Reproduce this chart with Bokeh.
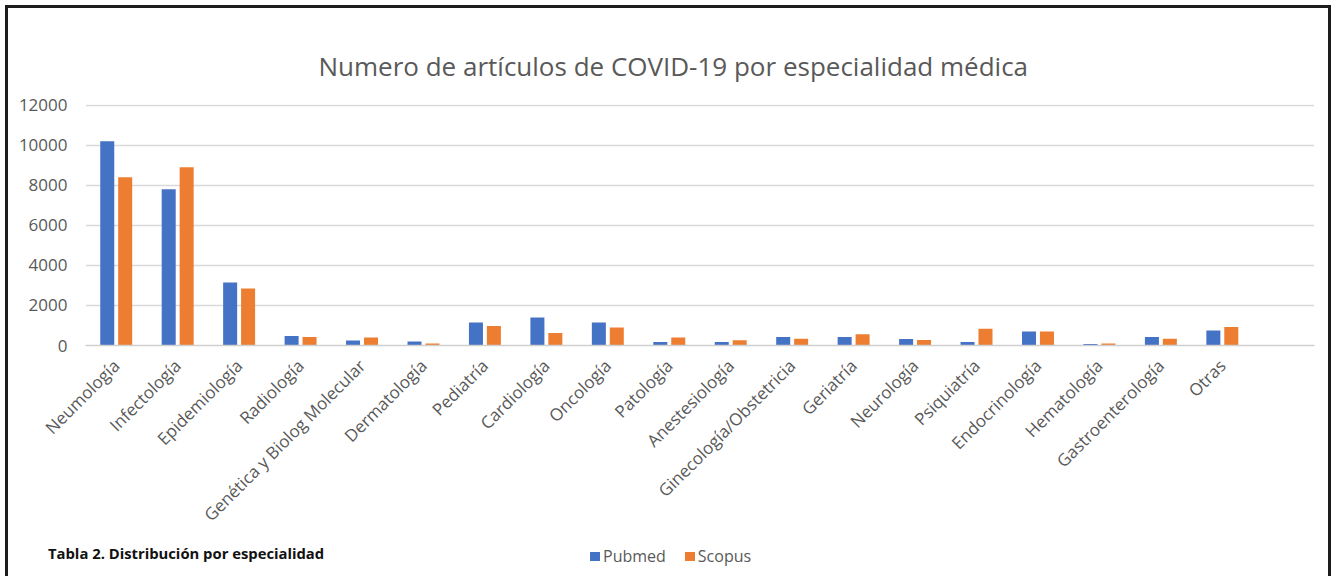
import math
from bokeh.plotting import figure
from bokeh.models import ColumnDataSource, FixedTicker, Title, Range1d, Div
from bokeh.layouts import column
from bokeh.embed import file_html
from bokeh.resources import INLINE

categories = ["Neumología", "Infectología", "Epidemiología", "Radiología",
              "Genética y Biolog Molecular", "Dermatología", "Pediatría",
              "Cardiología", "Oncología", "Patología", "Anestesiología",
              "Ginecología/Obstetricia", "Geriatría", "Neurología", "Psiquiatría",
              "Endocrinología", "Hematología", "Gastroenterología", "Otras"]
pubmed = [10200, 7800, 3150, 470, 250, 200, 1150, 1400, 1150, 170, 170,
          420, 420, 330, 180, 700, 70, 420, 750]
scopus = [8400, 8900, 2850, 420, 400, 100, 970, 630, 900, 400, 260,
          340, 560, 270, 830, 700, 100, 340, 920]
y_ticks = [0, 2000, 4000, 6000, 8000, 10000, 12000]
series_names = ["Pubmed", "Scopus"]
colors = ["#4472C4", "#ED7D31"]
title_text = "Numero de artículos de COVID-19 por especialidad médica"
note_text = "Tabla 2. Distribución por especialidad"

FONT = "Open Sans"
GREY = "#595959"
W = 1320
MAIN_H = 537
FOOT_H = 568 - MAIN_H

idx = list(range(len(categories)))
src = ColumnDataSource(dict(
    x_p=[i - 0.146 for i in idx],
    x_s=[i + 0.146 for i in idx],
    pubmed=pubmed, scopus=scopus))

p = figure(width=W, height=MAIN_H, output_backend="svg", toolbar_location=None,
           x_range=Range1d(-0.5, len(categories) + 0.5), y_range=Range1d(0, 12030),
           min_border_left=77, min_border_right=14, min_border_top=96,
           min_border_bottom=MAIN_H - 337)
p.outline_line_color = None
p.background_fill_color = "white"
p.border_fill_color = "white"

p.vbar(x="x_p", top="pubmed", width=0.228, source=src,
       fill_color=colors[0], line_color=None, legend_label=series_names[0])
p.vbar(x="x_s", top="scopus", width=0.228, source=src,
       fill_color=colors[1], line_color=None, legend_label=series_names[1])
p.legend.visible = False  # legend is shown in the footer strip below

# title (left-aligned with an offset so it sits centred on the whole chart)
t = Title(text=title_text, align="left", text_font=FONT, text_font_size="26px",
          text_font_style="normal", text_color=GREY, standoff=42, offset=233)
p.add_layout(t, "above")

# axes
p.xgrid.grid_line_color = None
p.ygrid.grid_line_color = "#D9D9D9"
p.ygrid.grid_line_width = 1.5
p.yaxis.ticker = FixedTicker(ticks=y_ticks)
p.yaxis.axis_line_color = None
p.yaxis.major_tick_line_color = None
p.yaxis.minor_tick_line_color = None
p.yaxis.major_tick_out = 0
p.yaxis.major_label_standoff = 18
p.yaxis.major_label_text_font = FONT
p.yaxis.major_label_text_font_size = "17px"
p.yaxis.major_label_text_color = GREY

p.xaxis.ticker = FixedTicker(ticks=idx)
p.xaxis.major_label_overrides = {i: c for i, c in zip(idx, categories)}
p.xaxis.major_label_orientation = math.pi / 4
p.xaxis.axis_line_color = "#D0D0D0"
p.xaxis.axis_line_width = 1.5
p.xaxis.major_tick_line_color = None
p.xaxis.minor_tick_line_color = None
p.xaxis.major_tick_out = 0
p.xaxis.major_label_standoff = 17
p.xaxis.major_label_text_font = FONT
p.xaxis.major_label_text_font_size = "17px"
p.xaxis.major_label_text_color = GREY

# footer strip: table note + legend
note_top = 553 - 8 - MAIN_H - 9
leg_top = 556 - 8 - MAIN_H - 10
swatches = "".join(
    f'<span style="display:inline-block;width:10px;height:9px;background:{c};'
    f'margin-right:3px;"></span>'
    f'<span style="margin-right:19px;">{n}</span>'
    for n, c in zip(series_names, colors))
footer_html = (
    f'<div style="position:relative;width:{W}px;height:{FOOT_H}px;'
    f'font-family:\'Open Sans\';overflow:visible;">'
    f'<div style="position:absolute;left:40px;top:{note_top}px;line-height:18px;'
    f'font-size:14.8px;font-weight:bold;color:#111111;white-space:nowrap;">'
    f'{note_text}</div>'
    f'<div style="position:absolute;left:582px;top:{leg_top}px;height:20px;'
    f'display:flex;align-items:center;font-size:16px;color:{GREY};'
    f'white-space:nowrap;">{swatches}</div>'
    f'</div>')
footer = Div(text=footer_html, width=W, height=FOOT_H, margin=0)

layout = column(p, footer, spacing=0,
                styles={"border-left": "3px solid #1c1c1c",
                        "border-top": "3px solid #1c1c1c",
                        "border-right": "3px solid #1c1c1c",
                        "margin-left": "5px", "margin-top": "5px"})

open("out.html", "w").write(file_html(layout, INLINE))
